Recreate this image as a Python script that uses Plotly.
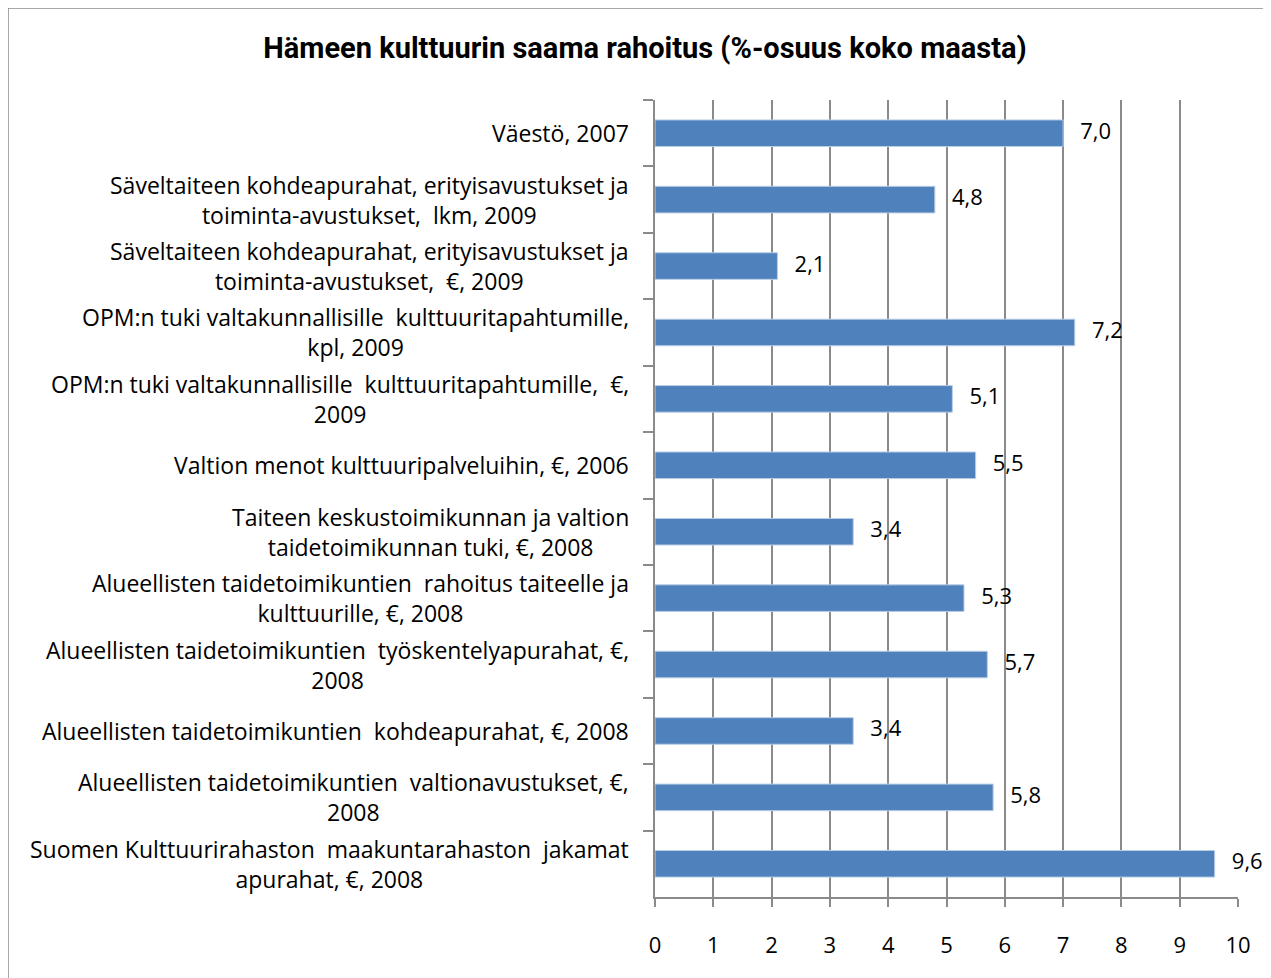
import plotly.graph_objects as go

categories = [
    "Väestö, 2007",
    "Säveltaiteen kohdeapurahat, erityisavustukset ja<br>toiminta-avustukset,  lkm, 2009",
    "Säveltaiteen kohdeapurahat, erityisavustukset ja<br>toiminta-avustukset,  €, 2009",
    "OPM:n tuki valtakunnallisille  kulttuuritapahtumille,<br>kpl, 2009",
    "OPM:n tuki valtakunnallisille  kulttuuritapahtumille,  €,<br>2009",
    "Valtion menot kulttuuripalveluihin, €, 2006",
    "Taiteen keskustoimikunnan ja valtion<br>taidetoimikunnan tuki, €, 2008",
    "Alueellisten taidetoimikuntien  rahoitus taiteelle ja<br>kulttuurille, €, 2008",
    "Alueellisten taidetoimikuntien  työskentelyapurahat, €,<br>2008",
    "Alueellisten taidetoimikuntien  kohdeapurahat, €, 2008",
    "Alueellisten taidetoimikuntien  valtionavustukset, €,<br>2008",
    "Suomen Kulttuurirahaston  maakuntarahaston  jakamat<br>apurahat, €, 2008",
]
values = [7.0, 4.8, 2.1, 7.2, 5.1, 5.5, 3.4, 5.3, 5.7, 3.4, 5.8, 9.6]
x_ticks = list(range(0, 11))

FONT = "Open Sans"
TITLE_FONT = "Roboto"
keys = [f"c{i}" for i in range(len(categories))]
labels_txt = ["\u00a0\u00a0\u00a0" + f"{v:.1f}".replace(".", ",") for v in values]

# page has an 8px body margin: work in page coords then shift
OFF = 8
W, H = 1271 - OFF, 978 - OFF
L, R, T, B = 655 - OFF, 1238 - OFF, 100 - OFF, 897 - OFF
pw, ph = R - L, B - T
def px(x):
    return (x - OFF - L) / pw
def py(y):
    return (B - (y - OFF)) / ph

fig = go.Figure()
fig.add_trace(go.Bar(
    x=values, y=keys, orientation="h",
    marker=dict(color="#4F81BD", line=dict(color="#B9CDE5", width=1)),
    width=0.4, hoverinfo="skip",
))
fig.add_trace(go.Scatter(
    x=values, y=keys, mode="text", text=labels_txt,
    textposition="middle right", cliponaxis=False,
    textfont=dict(family=FONT, size=22, color="#000000"),
))

annotations = []
for k, c in zip(keys, categories):
    annotations.append(dict(
        x=0, xref="paper", y=k, yref="y", text=c, showarrow=False,
        xanchor="right", yanchor="middle", align="center", xshift=-24,
        font=dict(family=FONT, size=23, color="#000000"),
    ))

fig.update_layout(
    width=W, height=H,
    margin=dict(l=L, r=W - R, t=T, b=H - B),
    paper_bgcolor="white", plot_bgcolor="white",
    showlegend=False,
    title=dict(text="<b>Hämeen kulttuurin saama rahoitus (%-osuus koko maasta)</b>",
               x=(645 - OFF) / W, xanchor="center", y=1 - (48 - OFF) / H, yanchor="middle",
               font=dict(family=TITLE_FONT, size=29, color="#000000")),
    xaxis=dict(range=[0, 10], tickvals=x_ticks, ticktext=[str(t) for t in x_ticks],
               showgrid=True, gridcolor="#8a8a8a", gridwidth=1.5,
               showline=True, linecolor="#8a8a8a", linewidth=1.5,
               ticks="outside", ticklen=8, tickcolor="#8a8a8a", tickwidth=1.5,
               tickfont=dict(family=FONT, size=22, color="#000000"),
               ticklabelstandoff=20,
               zeroline=False),
    yaxis=dict(type="category", categoryorder="array", categoryarray=keys,
               range=[len(keys) - 0.5, -0.5], showticklabels=False,
               showline=True, linecolor="#8a8a8a", linewidth=1.5,
               ticks="outside", ticklen=10, tickcolor="#8a8a8a", tickwidth=1.5,
               tickson="boundaries", showgrid=False),
    annotations=annotations,
    shapes=[dict(type="rect", xref="paper", yref="paper",
                 x0=px(8), x1=px(1300), y0=py(1000), y1=py(8),
                 line=dict(color="#8a8a8a", width=1.5), fillcolor="rgba(0,0,0,0)",
                 layer="below")],
)

fig.write_html("out.html")
